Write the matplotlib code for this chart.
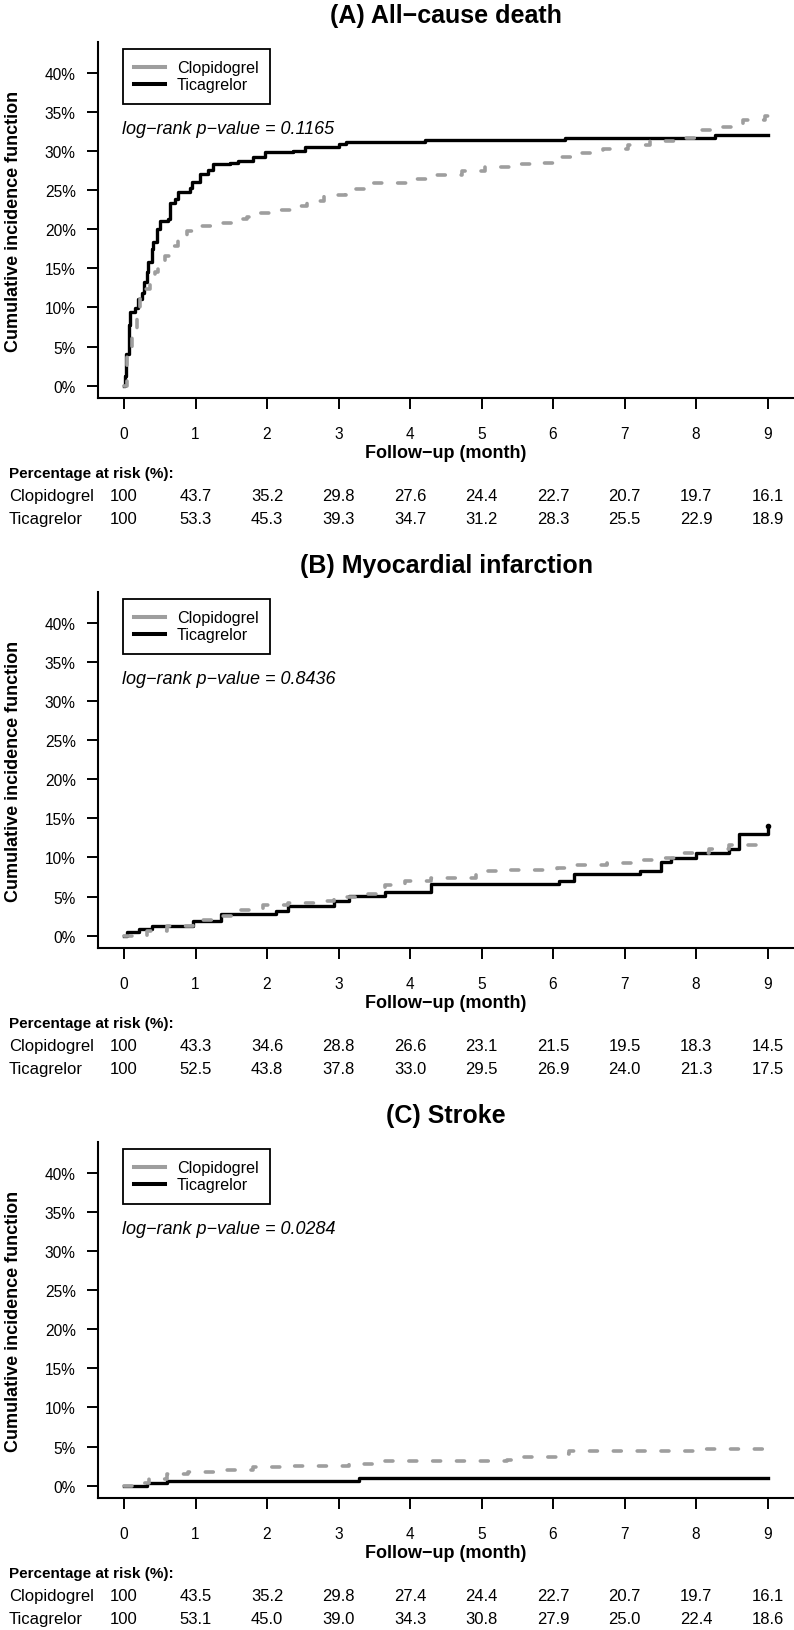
import numpy as np
import matplotlib.pyplot as plt
import matplotlib.transforms as mtransforms
from matplotlib.lines import Line2D

plt.rcParams['font.family'] = ['Liberation Sans', 'DejaVu Sans']

# ---- data (cumulative incidence in %, step points) ----
titles = ['(A) All\u2212cause death', '(B) Myocardial infarction', '(C) Stroke']
pvalues = ['0.1165', '0.8436', '0.0284']
arms = ['Clopidogrel', 'Ticagrelor']
months = list(range(10))

a_tic_t = [0, 0.01, 0.03, 0.07, 0.09, 0.15, 0.20, 0.25, 0.28, 0.32, 0.34, 0.39, 0.41, 0.46,
           0.50, 0.62, 0.64, 0.71, 0.76, 0.92, 0.95, 1.06, 1.18, 1.25, 1.48, 1.60, 1.81, 1.97,
           2.37, 2.53, 3.00, 3.11, 4.21, 6.17, 8.27, 9.0]
a_tic_v = [0, 1.3, 4.0, 7.7, 9.4, 9.9, 11.1, 11.9, 13.2, 14.5, 15.8, 17.5, 18.3, 20.0,
           21.1, 21.3, 23.4, 23.8, 24.7, 25.3, 26.0, 27.1, 27.5, 28.3, 28.5, 28.7, 29.2, 29.8,
           30.0, 30.5, 30.9, 31.1, 31.4, 31.7, 32.0, 32.0]
a_clo_t = [0, 0.04, 0.11, 0.18, 0.22, 0.29, 0.36, 0.43, 0.48, 0.57, 0.67, 0.76, 0.88, 1.02,
           1.25, 1.53, 1.72, 1.88, 2.14, 2.42, 2.56, 2.79, 3.11, 3.39, 4.04, 4.38, 4.73, 5.05,
           5.40, 5.72, 6.10, 6.40, 6.70, 7.05, 7.36, 7.70, 8.00, 8.33, 8.65, 8.97, 9.0]
a_clo_v = [0, 4.7, 7.2, 9.4, 11.5, 12.3, 13.2, 14.5, 15.8, 16.6, 17.9, 19.0, 19.8, 20.4,
           20.8, 21.3, 21.5, 22.0, 22.4, 23.0, 23.6, 24.3, 25.1, 25.9, 26.4, 26.9, 27.4, 27.9,
           28.3, 28.5, 29.2, 29.7, 30.2, 30.7, 31.3, 31.7, 32.6, 33.1, 34.0, 34.4, 34.4]

b_tic_t = [0, 0.04, 0.21, 0.39, 0.96, 1.35, 2.13, 2.30, 2.94, 3.14, 3.65, 4.29, 6.09, 6.30,
           7.22, 7.51, 7.65, 8.00, 8.46, 8.60, 9.0]
b_tic_v = [0, 0.5, 0.85, 1.28, 1.92, 2.77, 3.19, 3.75, 4.47, 5.11, 5.54, 6.6, 7.03, 7.88,
           8.3, 9.37, 9.88, 10.6, 11.07, 12.98, 14.04]
b_clo_t = [0, 0.32, 0.60, 0.96, 1.31, 1.52, 1.95, 2.30, 2.66, 2.94, 3.29, 3.65, 3.93, 4.29,
           4.92, 5.35, 6.06, 6.34, 6.76, 7.12, 7.47, 7.83, 8.18, 8.46, 8.89, 9.0]
b_clo_v = [0, 0.64, 1.28, 2.04, 2.47, 3.32, 3.96, 4.17, 4.47, 4.89, 5.36, 6.51, 6.94, 7.37,
           8.22, 8.43, 8.64, 9.07, 9.28, 9.71, 9.92, 10.56, 11.07, 11.62, 11.84, 11.84]

c_tic_t = [0, 0.32, 0.60, 3.28, 9.0]
c_tic_v = [0, 0.34, 0.6, 1.02, 1.02]
c_clo_t = [0, 0.18, 0.35, 0.60, 0.89, 1.38, 1.81, 2.37, 3.15, 3.58, 5.35, 5.49, 6.13, 6.23, 7.97, 9.0]
c_clo_v = [0, 0.34, 0.85, 1.49, 1.79, 2.04, 2.34, 2.47, 2.77, 3.11, 3.32, 3.62, 4.04, 4.38, 4.68, 4.68]

# percentage at risk
a_risk_clo = [100, 43.7, 35.2, 29.8, 27.6, 24.4, 22.7, 20.7, 19.7, 16.1]
a_risk_tic = [100, 53.3, 45.3, 39.3, 34.7, 31.2, 28.3, 25.5, 22.9, 18.9]
b_risk_clo = [100, 43.3, 34.6, 28.8, 26.6, 23.1, 21.5, 19.5, 18.3, 14.5]
b_risk_tic = [100, 52.5, 43.8, 37.8, 33.0, 29.5, 26.9, 24.0, 21.3, 17.5]
c_risk_clo = [100, 43.5, 35.2, 29.8, 27.4, 24.4, 22.7, 20.7, 19.7, 16.1]
c_risk_tic = [100, 53.1, 45.0, 39.0, 34.3, 30.8, 27.9, 25.0, 22.4, 18.6]

panels = [
    (a_clo_t, a_clo_v, a_tic_t, a_tic_v, a_risk_clo, a_risk_tic),
    (b_clo_t, b_clo_v, b_tic_t, b_tic_v, b_risk_clo, b_risk_tic),
    (c_clo_t, c_clo_v, c_tic_t, c_tic_v, c_risk_clo, c_risk_tic),
]

GRAY = '#9e9e9e'
W, H = 794, 1631
STEP = 550  # vertical pixel distance between panels

fig = plt.figure(figsize=(W / 100, H / 100), dpi=100)


def fy(py):
    return 1 - py / H


def fmt(v):
    return '100' if v == 100 else f'{v:.1f}'


for i, (ct, cv, tt, tv, rc, rt) in enumerate(panels):
    off = STEP * i
    ax = fig.add_axes([98 / W, 1 - (399 + off) / H, 696 / W, 356 / H])
    ax.plot(tt, tv, drawstyle='steps-post', color='black', lw=2.4)
    ax.plot(ct, cv, drawstyle='steps-post', color=GRAY, lw=2.6,
            linestyle=(0, (2.2, 4.4)), dash_capstyle='round')
    if i == 1:
        ax.plot(tt[-1], tv[-1], 'o', color='black', ms=3)

    ax.set_xlim(-0.364, 9.37)
    ax.set_ylim(-1.57, 43.9)
    for s in ['top', 'right']:
        ax.spines[s].set_visible(False)
    for s in ['left', 'bottom']:
        ax.spines[s].set_linewidth(1.5)
    ax.set_xticks(months)
    ax.set_yticks(range(0, 45, 5))
    ax.set_yticklabels([f'{y}%' for y in range(0, 45, 5)])
    ax.tick_params(axis='both', length=8, width=1.4, labelsize=11.2)
    ax.tick_params(axis='x', pad=12)
    ax.tick_params(axis='y', pad=8)

    ax.set_ylabel('Cumulative incidence function', fontsize=13, fontweight='bold')
    ax.yaxis.set_label_coords(-0.109, 0.5)
    ax.set_xlabel('Follow\u2212up (month)', fontsize=13, fontweight='bold', va='center')
    ax.xaxis.set_label_coords(0.5, -0.152)

    handles = [Line2D([], [], color=GRAY, lw=2.9), Line2D([], [], color='black', lw=2.9)]
    leg = ax.legend(handles, arms, loc='upper left', bbox_to_anchor=(0.036, 0.98),
                    borderaxespad=0, fontsize=11.6, fancybox=False, framealpha=1,
                    edgecolor='black', borderpad=0.7, handlelength=1.9,
                    handletextpad=0.75, labelspacing=0.12)
    leg.get_frame().set_linewidth(1.3)

    ax.text(0.0345, 0.756, f'log\u2212rank p\u2212value = {pvalues[i]}', transform=ax.transAxes,
            fontsize=13, style='italic', ha='left', va='center')

    fig.text((98 + 696 / 2) / W, fy(16 + off), titles[i], fontsize=18, fontweight='bold',
             ha='center', va='center')

    # risk table
    trans = mtransforms.blended_transform_factory(ax.transData, fig.transFigure)
    fig.text(9 / W, fy(474 + off), 'Percentage at risk (%):', fontsize=11,
             fontweight='bold', ha='left', va='center')
    for name, vals, row in [(arms[0], rc, 497), (arms[1], rt, 520)]:
        fig.text(9 / W, fy(row + off), name, fontsize=12, ha='left', va='center')
        for m, v in zip(months, vals):
            ax.text(m, fy(row + off), fmt(v), transform=trans, fontsize=12,
                    ha='center', va='center', clip_on=False)

fig.savefig('out.png', dpi=100)
